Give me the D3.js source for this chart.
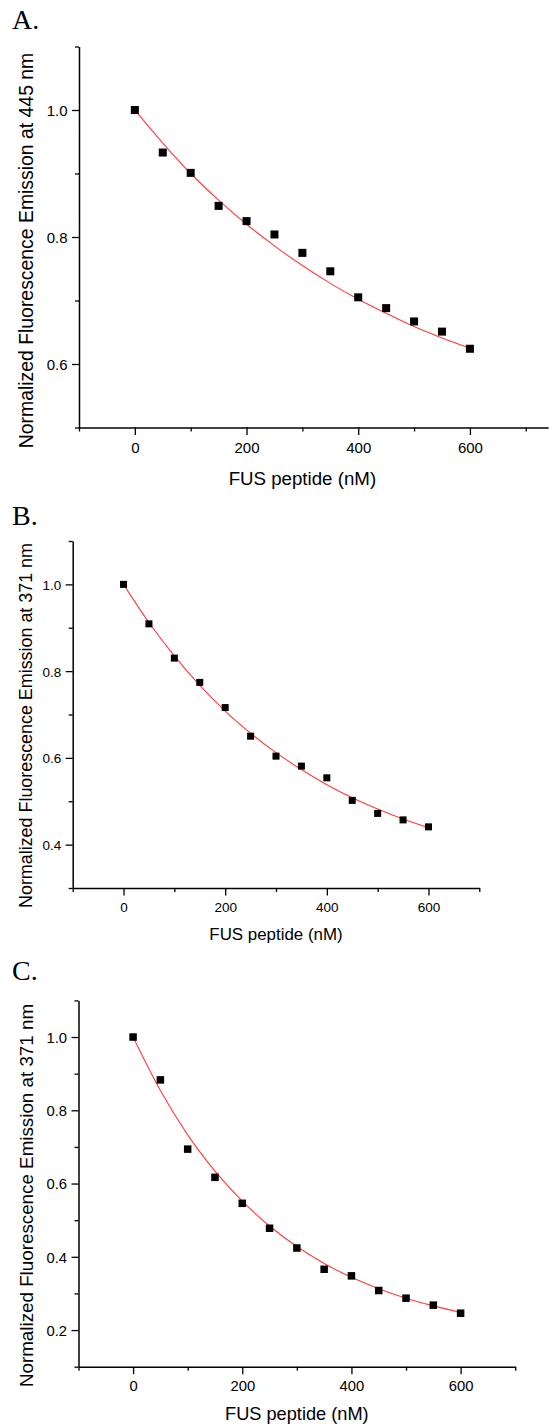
<!DOCTYPE html>
<html>
<head>
<meta charset="utf-8">
<script src="https://cdn.jsdelivr.net/npm/d3@7"></script>
<style>
  html, body { margin: 0; padding: 0; background: #fff; }
  svg { display: block; }
</style>
</head>
<body>
<svg id="chart" width="549" height="1427"></svg>
<script>
// ---------------- DATA ----------------
const concentrations = [0, 50, 100, 150, 200, 250, 300, 350, 400, 450, 500, 550, 600];

const panelLetters = ["A.", "B.", "C."];
const yTitles = [
  "Normalized Fluorescence Emission at 445 nm",
  "Normalized Fluorescence Emission at 371 nm",
  "Normalized Fluorescence Emission at 371 nm"
];
const xTitle = "FUS peptide (nM)";

// measured points
const valuesA = [1.000, 0.933, 0.901, 0.849, 0.825, 0.804, 0.775, 0.746, 0.705, 0.688, 0.667, 0.651, 0.624];
const valuesB = [1.000, 0.909, 0.830, 0.774, 0.716, 0.650, 0.604, 0.581, 0.554, 0.502, 0.472, 0.457, 0.441];
const valuesC = [1.000, 0.883, 0.694, 0.617, 0.546, 0.478, 0.424, 0.366, 0.348, 0.308, 0.287, 0.268, 0.246];

// fitted curve (red line) at the same concentrations
const fitA = [1.000, 0.948, 0.900, 0.858, 0.820, 0.786, 0.755, 0.727, 0.702, 0.680, 0.659, 0.641, 0.625];
const fitB = [1.000, 0.912, 0.835, 0.767, 0.708, 0.657, 0.612, 0.573, 0.538, 0.508, 0.482, 0.459, 0.439];
const fitC = [1.000, 0.854, 0.733, 0.634, 0.552, 0.484, 0.428, 0.382, 0.344, 0.313, 0.287, 0.266, 0.248];

// axis ticks
const xMajorTicks = [0, 200, 400, 600];
const xMinorTicks = [-100, 100, 300, 500, 700];
const yMajorTicksA = [0.6, 0.8, 1.0];
const yMinorTicksA = [0.5, 0.7, 0.9, 1.1];
const yMajorTicksB = [0.4, 0.6, 0.8, 1.0];
const yMinorTicksB = [0.3, 0.5, 0.7, 0.9, 1.1];
const yMajorTicksC = [0.2, 0.4, 0.6, 0.8, 1.0];
const yMinorTicksC = [0.1, 0.3, 0.5, 0.7, 0.9, 1.1];

// ---------------- LAYOUT ----------------
const panels = [
  { letter: panelLetters[0], letterY: 29.3, yTitle: yTitles[0], values: valuesA, fit: fitA,
    xDomain: [-100, 740], xRange: [79, 548.1], yDomain: [0.5, 1.1], yRange: [427.5, 46.5],
    yMajor: yMajorTicksA, yMinor: yMinorTicksA, tickFont: 15, titleFont: 18.7, yTitleFont: 19.4,
    yTitleCenter: 250.5, yTitleX: 33.3, xLabelDy: 25, xTitleY: 485, marker: 8 },
  { letter: panelLetters[1], letterY: 525, yTitle: yTitles[1], values: valuesB, fit: fitB,
    xDomain: [-100, 700], xRange: [72.7, 479.3], yDomain: [0.3, 1.1], yRange: [888, 541],
    yMajor: yMajorTicksB, yMinor: yMinorTicksB, tickFont: 13.5, titleFont: 16.9, yTitleFont: 17.9,
    yTitleCenter: 725.5, yTitleX: 32.3, xLabelDy: 23.7, xTitleY: 940, marker: 7 },
  { letter: panelLetters[2], letterY: 980, yTitle: yTitles[2], values: valuesC, fit: fitC,
    xDomain: [-100, 700], xRange: [78.5, 515.2], yDomain: [0.1, 1.1], yRange: [1366.7, 1000.4],
    yMajor: yMajorTicksC, yMinor: yMinorTicksC, tickFont: 14.8, titleFont: 18.2, yTitleFont: 18.8,
    yTitleCenter: 1195.5, yTitleX: 33.3, xLabelDy: 24.3, xTitleY: 1420, marker: 7.5 }
];

const svg = d3.select("#chart");
const sans = "'Liberation Sans', Arial, Helvetica, sans-serif";
const serif = "'Liberation Serif', 'Times New Roman', serif";

panels.forEach(p => {
  const x = d3.scaleLinear().domain(p.xDomain).range(p.xRange);
  const y = d3.scaleLinear().domain(p.yDomain).range(p.yRange);
  const g = svg.append("g");
  const axisY0 = p.yRange[0];
  const axisX0 = p.xRange[0];

  // panel letter
  svg.append("text").attr("x", 12).attr("y", p.letterY)
    .attr("font-family", serif).attr("font-size", 28).attr("fill", "#000")
    .text(p.letter);

  // x axis: minor then major
  const xMinor = d3.axisBottom(x).tickValues(xMinorTicks).tickSize(4).tickSizeOuter(0).tickFormat("");
  const xMajor = d3.axisBottom(x).tickValues(xMajorTicks).tickSize(7.5).tickSizeOuter(0).tickFormat(d3.format("d"));
  const gxm = g.append("g").attr("transform", `translate(0,${axisY0})`).call(xMinor);
  const gx = g.append("g").attr("transform", `translate(0,${axisY0})`).call(xMajor);
  gxm.select(".domain").remove();
  [gxm, gx].forEach(a => {
    a.selectAll("line").attr("stroke", "#000").attr("stroke-width", 1.3);
    a.select(".domain").attr("stroke", "#000").attr("stroke-width", 1.5);
  });
  gx.selectAll("text").attr("font-family", sans).attr("font-size", p.tickFont)
    .attr("fill", "#000").attr("y", p.xLabelDy).attr("dy", 0);

  // y axis: minor then major
  const yMinor = d3.axisLeft(y).tickValues(p.yMinor).tickSize(4).tickSizeOuter(0).tickFormat("");
  const yMajor = d3.axisLeft(y).tickValues(p.yMajor).tickSize(7).tickSizeOuter(0).tickFormat(d3.format(".1f"));
  const gym = g.append("g").attr("transform", `translate(${axisX0},0)`).call(yMinor);
  const gy = g.append("g").attr("transform", `translate(${axisX0},0)`).call(yMajor);
  gym.select(".domain").remove();
  [gym, gy].forEach(a => {
    a.selectAll("line").attr("stroke", "#000").attr("stroke-width", 1.3);
    a.select(".domain").attr("stroke", "#000").attr("stroke-width", 1.5);
  });
  gy.selectAll("text").attr("font-family", sans).attr("font-size", p.tickFont)
    .attr("fill", "#000").attr("x", -11.5).attr("dy", "0.36em");

  // fitted curve
  const line = d3.line()
    .x((d, i) => x(concentrations[i]))
    .y(d => y(d))
    .curve(d3.curveMonotoneX);
  g.append("path").datum(p.fit).attr("d", line)
    .attr("fill", "none").attr("stroke", "#ff3b3b").attr("stroke-width", 1.1);

  // markers
  const s = p.marker;
  g.selectAll("rect.pt").data(p.values).enter().append("rect")
    .attr("class", "pt")
    .attr("x", (d, i) => x(concentrations[i]) - s / 2)
    .attr("y", d => y(d) - s / 2)
    .attr("width", s).attr("height", s)
    .attr("fill", "#000");

  // x title
  svg.append("text").attr("x", x(300)).attr("y", p.xTitleY)
    .attr("text-anchor", "middle").attr("font-family", sans)
    .attr("font-size", p.titleFont).attr("fill", "#000").text(xTitle);

  // y title
  svg.append("text")
    .attr("transform", `translate(${p.yTitleX},${p.yTitleCenter}) rotate(-90)`)
    .attr("text-anchor", "middle").attr("font-family", sans)
    .attr("font-size", p.yTitleFont).attr("fill", "#000").text(p.yTitle);
});
</script>
</body>
</html>
